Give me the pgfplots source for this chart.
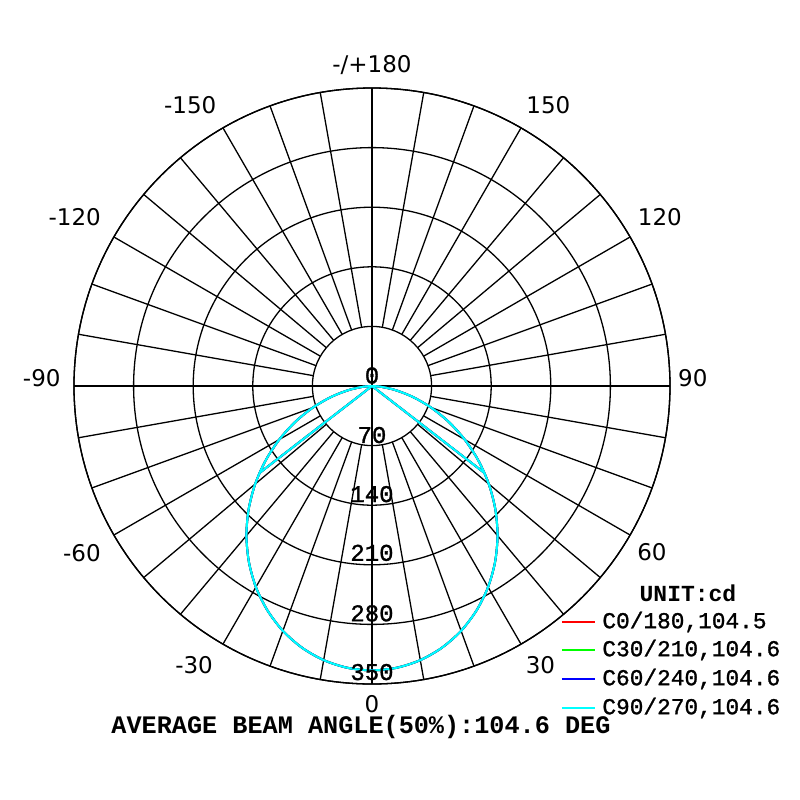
\documentclass[border=0pt]{standalone}
\usepackage{fontspec}
\setmainfont{Liberation Mono}
\newfontfamily\courm[FakeBold=1.2]{Liberation Mono}
\newfontfamily\dvs{DejaVu Sans}
\usepackage{pgfplots}
\pgfplotsset{compat=1.18}
\usepgfplotslibrary{polar}
\usepackage{pgfplotstable}
\definecolor{cR}{RGB}{255,0,0}
\definecolor{cG}{RGB}{0,255,0}
\definecolor{cB}{RGB}{0,0,255}
\definecolor{cC}{RGB}{0,255,255}

% theta (0 = down, positive to the right), intensity in cd
\pgfplotstableread{
t r
-90 0
-85 10.7
-80 28.3
-75 49.7
-70 73.6
-65 99.2
-60 125.7
-55 152.5
-50 179.1
-45 204.9
-40 229.4
-35 252.1
-30 272.7
-25 290.7
-20 306.0
-15 318.1
-10 326.9
-5 332.2
0 334.0
5 332.2
10 326.9
15 318.1
20 306.0
25 290.7
30 272.7
35 252.1
40 229.4
45 204.9
50 179.1
55 152.5
60 125.7
65 99.2
70 73.6
75 49.7
80 28.3
85 10.7
90 0
}\dataC

\pgfplotstableread{
t r
-52.3 167
0 0
52.3 167
}\halfC

\begin{document}
\begin{tikzpicture}
\useasboundingbox (-186pt,-207pt) rectangle (214pt,193pt);
\begin{polaraxis}[
  at={(0,0)}, anchor=center,
  scale only axis, width=298pt, height=298pt,
  ymin=0, ymax=350,
  xtick=\empty,
  ytick={70,140,210,280,350},
  yticklabels={},
  major tick length=0pt,
  ymajorgrids=true,
  grid style={black, line width=0.65pt},
  axis line style={black, line width=0.65pt},
  clip=false,
]
\pgfplotsinvokeforeach{0,10,...,350}{
  \draw[black, line width=0.65pt] (axis cs:#1,70) -- (axis cs:#1,350);
}
\draw[black, line width=0.65pt] (axis cs:0,350) -- (axis cs:180,350);
\draw[black, line width=0.65pt] (axis cs:90,350) -- (axis cs:270,350);

\addplot[cR, line width=1pt, smooth] table[x expr=\thisrow{t}-90, y=r] {\dataC};
\addplot[cR, line width=1pt] table[x expr=\thisrow{t}-90, y=r] {\halfC};
\addplot[cG, line width=1pt, smooth] table[x expr=\thisrow{t}-90, y=r] {\dataC};
\addplot[cG, line width=1pt] table[x expr=\thisrow{t}-90, y=r] {\halfC};
\addplot[cB, line width=1pt, smooth] table[x expr=\thisrow{t}-90, y=r] {\dataC};
\addplot[cB, line width=1pt] table[x expr=\thisrow{t}-90, y=r] {\halfC};
\addplot[cC, line width=1pt, smooth] table[x expr=\thisrow{t}-90, y=r] {\dataC};
\addplot[cC, line width=1pt] table[x expr=\thisrow{t}-90, y=r] {\halfC};

% radial labels
\node[font=\courm\fontsize{12}{12}\selectfont] at (axis cs:90,12.3) {0};
\node[font=\courm\fontsize{12}{12}\selectfont] at (axis cs:-90,57.6) {70};
\node[font=\courm\fontsize{12}{12}\selectfont] at (axis cs:-90,127) {140};
\node[font=\courm\fontsize{12}{12}\selectfont] at (axis cs:-90,196) {210};
\node[font=\courm\fontsize{12}{12}\selectfont] at (axis cs:-90,267) {280};
\node[font=\courm\fontsize{12}{12}\selectfont] at (axis cs:-90,336) {350};

% angle labels
\node[font=\dvs\fontsize{11.5}{11.5}\selectfont] at (axis cs:90,377) {-/+180};
\node[font=\dvs\fontsize{11.5}{11.5}\selectfont] at (axis cs:57.9,390) {150};
\node[font=\dvs\fontsize{11.5}{11.5}\selectfont] at (axis cs:30.4,392) {120};
\node[font=\dvs\fontsize{11.5}{11.5}\selectfont] at (axis cs:1.4,377) {90};
\node[font=\dvs\fontsize{11.5}{11.5}\selectfont] at (axis cs:-30.7,382.5) {60};
\node[font=\dvs\fontsize{11.5}{11.5}\selectfont] at (axis cs:-58.9,383) {30};
\node[inner sep=0pt, font=\dvs\fontsize{11.5}{11.5}\selectfont] at (axis cs:-90,374) {0};
\node[font=\dvs\fontsize{11.5}{11.5}\selectfont] at (axis cs:-122.5,389) {-30};
\node[font=\dvs\fontsize{11.5}{11.5}\selectfont] at (axis cs:-150.1,393) {-60};
\node[font=\dvs\fontsize{11.5}{11.5}\selectfont] at (axis cs:178.6,388) {-90};
\node[font=\dvs\fontsize{11.5}{11.5}\selectfont] at (axis cs:150.4,401.5) {-120};
\node[font=\dvs\fontsize{11.5}{11.5}\selectfont] at (axis cs:122.9,393) {-150};
\end{polaraxis}

% legend
\node[font=\bfseries\fontsize{11.5}{11.5}\selectfont] at (158pt,-103.5pt) {UNIT:cd};
\draw[cR, line width=1pt] (95pt,-118pt) -- (111.5pt,-118pt);
\node[anchor=west, inner sep=0pt, font=\courm\fontsize{11.4}{11.4}\selectfont] at (115pt,-118pt) {C0/180,104.5};
\draw[cG, line width=1pt] (95pt,-132pt) -- (111.5pt,-132pt);
\node[anchor=west, inner sep=0pt, font=\courm\fontsize{11.4}{11.4}\selectfont] at (115pt,-132pt) {C30/210,104.6};
\draw[cB, line width=1pt] (95pt,-146.5pt) -- (111.5pt,-146.5pt);
\node[anchor=west, inner sep=0pt, font=\courm\fontsize{11.4}{11.4}\selectfont] at (115pt,-146.5pt) {C60/240,104.6};
\draw[cC, line width=1pt] (95pt,-161pt) -- (111.5pt,-161pt);
\node[anchor=west, inner sep=0pt, font=\courm\fontsize{11.4}{11.4}\selectfont] at (115pt,-161pt) {C90/270,104.6};

\node[inner sep=0pt, font=\bfseries\fontsize{12.6}{12.6}\selectfont] at (-5.5pt,-170.5pt) {AVERAGE BEAM ANGLE(50\%):104.6 DEG};
\end{tikzpicture}
\end{document}
